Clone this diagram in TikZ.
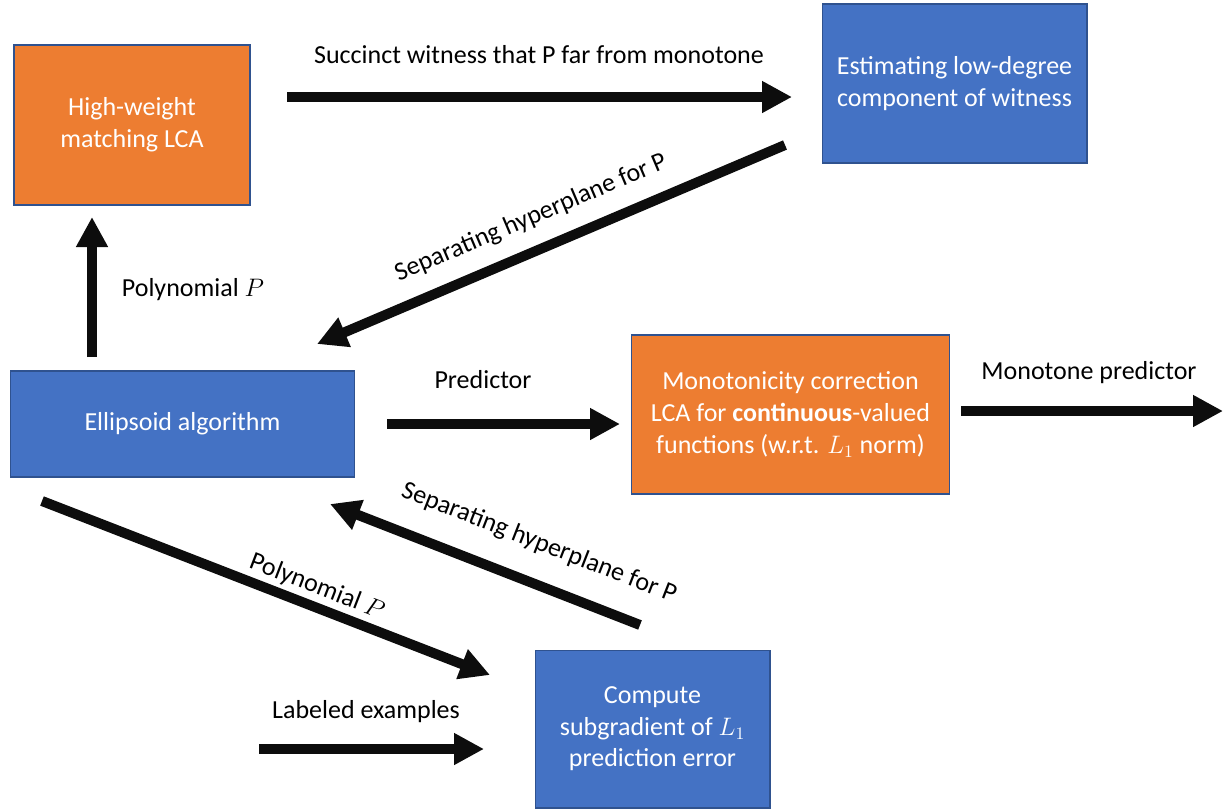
\documentclass[tikz,border=0pt]{standalone}
\usepackage{fontspec}
\setmainfont{Carlito}
\usepackage{xcolor}
\usetikzlibrary{arrows.meta}
\definecolor{boxblue}{HTML}{4472C4}
\definecolor{boxorange}{HTML}{ED7D31}
\definecolor{boxline}{HTML}{2F528F}
\definecolor{arrowblack}{HTML}{0D0D0D}

\begin{document}
\begin{tikzpicture}[x=0.02cm,y=-0.02cm,
        every node/.style={font=\fontsize{14.8}{18}\selectfont,align=center,inner sep=0pt},
        bluebox/.style={draw=boxline,line width=0.6pt,fill=boxblue,text=white},
        orangebox/.style={draw=boxline,line width=0.6pt,fill=boxorange,text=white},
        fatarrow/.style={draw=arrowblack,line width=0.2cm,-{Triangle[length=0.6cm,width=0.6cm]}}]
        \useasboundingbox (0,0) rectangle (1223,809);
        % Boxes
        \draw (132,125) node[orangebox,minimum width=4.72cm,minimum height=3.2cm](hwm) {High-weight\\matching LCA};
        \draw (954.5,83.5) node[bluebox,minimum width=5.3cm,minimum height=3.18cm](est) {Estimating low-degree\\component of witness};
        \draw (182.5,424) node[bluebox,minimum width=6.9cm,minimum height=2.12cm](ell) {Ellipsoid algorithm};
        \draw (790.5,414.5) node[orangebox,minimum width=6.36cm,minimum height=3.18cm](mono) {Monotonicity correction\\LCA for \textbf{continuous}-valued\\functions (w.r.t. $L_1$ norm)};
        \draw (652.5,729) node[bluebox,minimum width=4.7cm,minimum height=3.16cm](sub) {Compute\\subgradient of $L_1$\\prediction error};
        % Arrow ends
        \coordinate (wit1) at (287,97);
        \coordinate (wit2) at (792,97);
        \coordinate (sepa1) at (785,145);
        \coordinate (sepa2) at (317,344);
        \coordinate (poly1) at (92,357);
        \coordinate (poly2) at (92,217);
        \coordinate (pred1) at (387,424);
        \coordinate (pred2) at (620,424);
        \coordinate (out1) at (961,411);
        \coordinate (out2) at (1223,411);
        \coordinate (sepb1) at (640,625);
        \coordinate (sepb2) at (330,504);
        \coordinate (polyb1) at (42,501);
        \coordinate (polyb2) at (490,675);
        \coordinate (lab1) at (259,749);
        \coordinate (lab2) at (484,749);
        % Arrows
        \draw[fatarrow] (wit1) -- (wit2);
        \draw[fatarrow] (sepa1) -- (sepa2);
        \draw[fatarrow] (poly1) -- (poly2);
        \draw[fatarrow] (pred1) -- (pred2);
        \draw[fatarrow] (out1) -- (out2);
        \draw[fatarrow] (sepb1) -- (sepb2);
        \draw[fatarrow] (polyb1) -- (polyb2);
        \draw[fatarrow] (lab1) -- (lab2);
        % Labels
        \draw (539,55) node(witlabel) {Succinct witness that P far from monotone};
        \draw (531,218) node[rotate=23](sepalabel) {Separating hyperplane for P};
        \draw (193,290) node(polylabel) {Polynomial $P$};
        \draw (483,380) node(predlabel) {Predictor};
        \draw (1089,373) node(outlabel) {Monotone predictor};
        \draw (539,543) node[rotate=-21.3](sepblabel) {Separating hyperplane for P};
        \draw (317,587) node[rotate=-21.1](polyblabel) {Polynomial $P$};
        \draw (366,712) node(lablabel) {Labeled examples};
    \end{tikzpicture}
\end{document}
